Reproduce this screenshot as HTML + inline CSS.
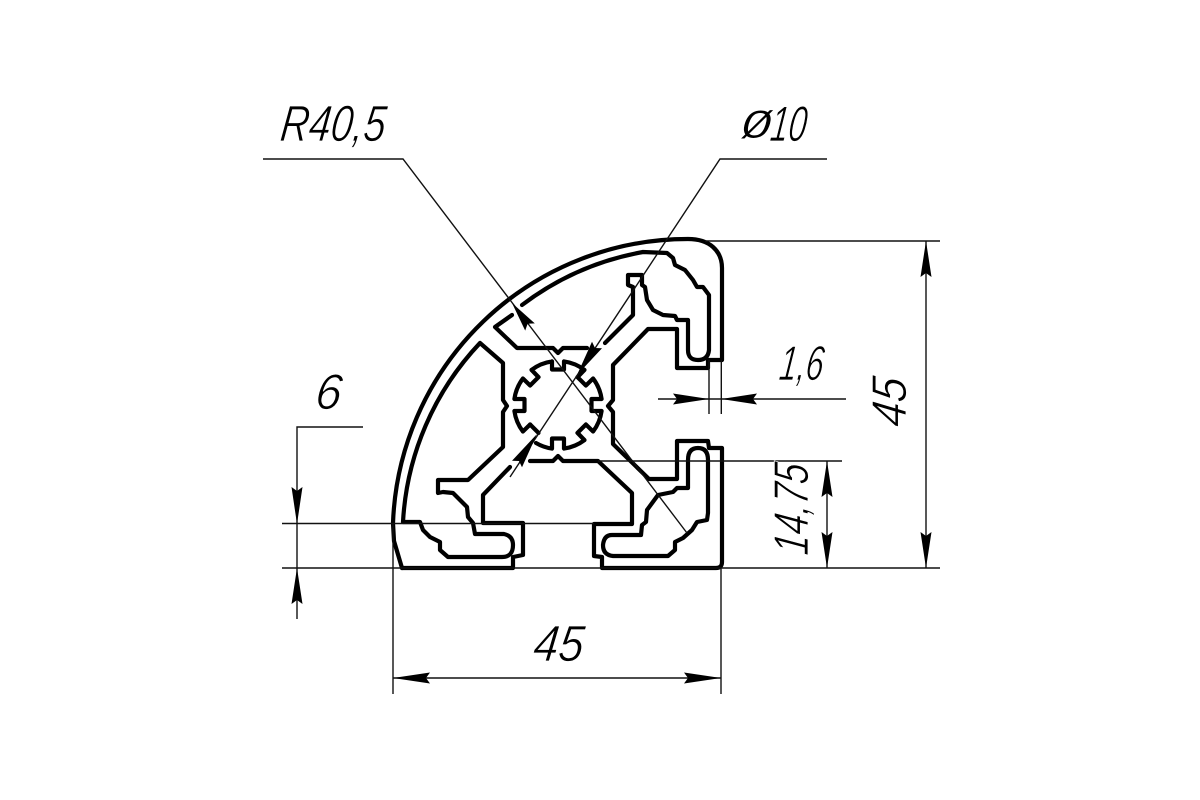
<!DOCTYPE html>
<html lang="en">
<head>
<meta charset="utf-8">
<title>Profile drawing</title>
<style>
html,body{margin:0;padding:0;background:#fff;width:1200px;height:800px;overflow:hidden}
svg{display:block}
text{font-family:"Liberation Sans",sans-serif;font-style:italic;fill:#000;stroke:#fff;stroke-width:.8px;paint-order:fill stroke}
</style>
</head>
<body>
<svg width="1200" height="800" viewBox="0 0 1200 800" xmlns="http://www.w3.org/2000/svg">
<rect width="1200" height="800" fill="#fff"/>

<!-- Profile contours -->
<g fill="none" stroke="#000" stroke-width="4.2" stroke-linejoin="round" stroke-linecap="round">
  <path d="M402,568 L394,541 L393,523 A295,295 0 0 1 688,239 Q704,239 713,247 Q722,255 722,268 L722,360 L708,360 L708,368 L677,368 L677,329 L648,329 L613,365 L613,400 L608,406 L613,412 L613,444 L649,479 L677,479 L677,441 L708,441 L709,448 L722,448 L722,562 Q722,568 716,568 L602,568 L602,557 L594,556 L594,524 L632,524 L632,493 L598,461 L563,461 L558,456 L553,461 L530,461"/>
  <path d="M510,467 L483,495 L483,523 L523,523 L523,555 L513,557 L513,568 L402,568"/>
  <path d="M480,343 L503,363 L503,400 L507,406 L503,412 L503,447 L468,480 L438,480 L438,493 L443,492 L453,493 L467,507 L468,517 L473,523 L475,534 L504,534 Q513,536 513,545 Q513,557 502,557 L448,557 L440,550 L440,542 L430,537 L423,530 L420,522 L403,522 A283,283 0 0 1 480,343 Z"/>
  <path d="M512,315 L495,327 L517,348 L553,348 L558,353 L563,348 L587,348"/>
  <path d="M522,305 A283,283 0 0 1 643,252 L667,253 L673,258 L675,265 L685,270 L693,280 L697,287 L703,287 L709,295 L709,350 Q708,360 698,360 Q688,360 688,350 L688,320 L677,320 L675,316 L663,315 L653,310 L647,300 L645,287 L642,285 L642,275 L628,275 L628,285 L633,287 L633,315 L605,343"/>
  <path d="M688,460 Q688,448 698,448 Q708,448 708,460 L708,513 L707,520 L697,522 L692,530 L683,538 L675,542 L675,550 L668,556 L613,556 Q603,555 603,545 Q604,535 612,535 L641,535 L642,525 L646,522 L647,510 L658,495 L673,492 L677,488 L688,488 Z"/>
  <path d="M552,361.4 L552,369.5 L564,369.5 L564,361.4 A44,44 0 0 1 584.5,369.9 L577.5,377.1 L585.9,385.5 L593.1,378.5 A44,44 0 0 1 601.6,399 L591.5,399 L591.5,411 L601.6,411 A44,44 0 0 1 593.1,431.5 L585.9,424.5 L577.5,432.9 L584.5,440.1 A44,44 0 0 1 564,448.6 L564,438.5 L552,438.5 L552,448.6 A44,44 0 0 1 536,443 M530.1,424.5 L522.9,431.5 A44,44 0 0 1 514.4,411 L524.5,411 L524.5,399 L514.4,399 A44,44 0 0 1 522.9,378.5 L530.1,385.5 L538.5,377.1 L531.5,369.9 A44,44 0 0 1 552,361.4"/>
  <path d="M538.5,432.9 L530.1,424.5"/>
</g>

<!-- Dimension and leader lines -->
<g fill="none" stroke="#111" stroke-width="1.4">
  <path d="M263,159 H403 L687,533"/>
  <path d="M827,159 H720 L510,477"/>
  <path d="M705,241 H940"/>
  <path d="M282,568 H940"/>
  <path d="M598,461 H842"/>
  <path d="M282,523.5 H594"/>
  <path d="M926,241 V568"/>
  <path d="M827,461 V568"/>
  <path d="M709,360 V414 M721.3,360 V414"/>
  <path d="M658,399 H846"/>
  <path d="M363,427 H297 V619"/>
  <path d="M393,523 V694 M721,568 V694"/>
  <path d="M393,678 H721"/>
</g>

<!-- Arrowheads -->
<g fill="#000" stroke="none">
  <polygon points="926,241 920.5,277 926,273 931.5,277"/>
  <polygon points="926,568 920.5,532 926,536 931.5,532"/>
  <polygon points="827,461 821.5,497 827,493 832.5,497"/>
  <polygon points="827,568 821.5,532 827,536 832.5,532"/>
  <polygon points="709,399 673,393.5 677,399 673,404.5"/>
  <polygon points="721.3,399 757,393.5 753,399 757,404.5"/>
  <polygon points="297,524 291.5,487 297,491 302.5,487"/>
  <polygon points="297,568 291.5,604 297,600 302.5,604"/>
  <polygon points="393,678 430,672.5 426,678 430,683.5"/>
  <polygon points="721,678 684,672.5 688,678 684,683.5"/>
  <polygon points="512,303 534.8,323.4 527.6,323.8 525.2,330.6"/>
  <polygon points="577,375 602,348.3 595,348 592,341.7"/>
  <polygon points="537,434 522,467.3 519,461 512,460.7"/>
</g>

<!-- Labels -->
<text transform="translate(279,141) skewX(-7)" font-size="51" textLength="105" lengthAdjust="spacingAndGlyphs">R40,5</text>
<text transform="translate(739,138) skewX(-7)" font-size="52" textLength="33" lengthAdjust="spacingAndGlyphs">ø</text>
<text transform="translate(769,141) skewX(-7)" font-size="50" textLength="36" lengthAdjust="spacingAndGlyphs">10</text>
<text transform="translate(778,380) skewX(-7)" font-size="49" textLength="44" lengthAdjust="spacingAndGlyphs">1,6</text>
<text transform="translate(314,409) skewX(-7)" font-size="50" textLength="26" lengthAdjust="spacingAndGlyphs">6</text>
<text transform="translate(532,661) skewX(-7)" font-size="51" textLength="50" lengthAdjust="spacingAndGlyphs">45</text>
<text transform="translate(906,428) rotate(-90) skewX(-7)" font-size="49" textLength="49" lengthAdjust="spacingAndGlyphs">45</text>
<text transform="translate(808,556) rotate(-90) skewX(-7)" font-size="49" textLength="91" lengthAdjust="spacingAndGlyphs">14,75</text>
</svg>
</body>
</html>
